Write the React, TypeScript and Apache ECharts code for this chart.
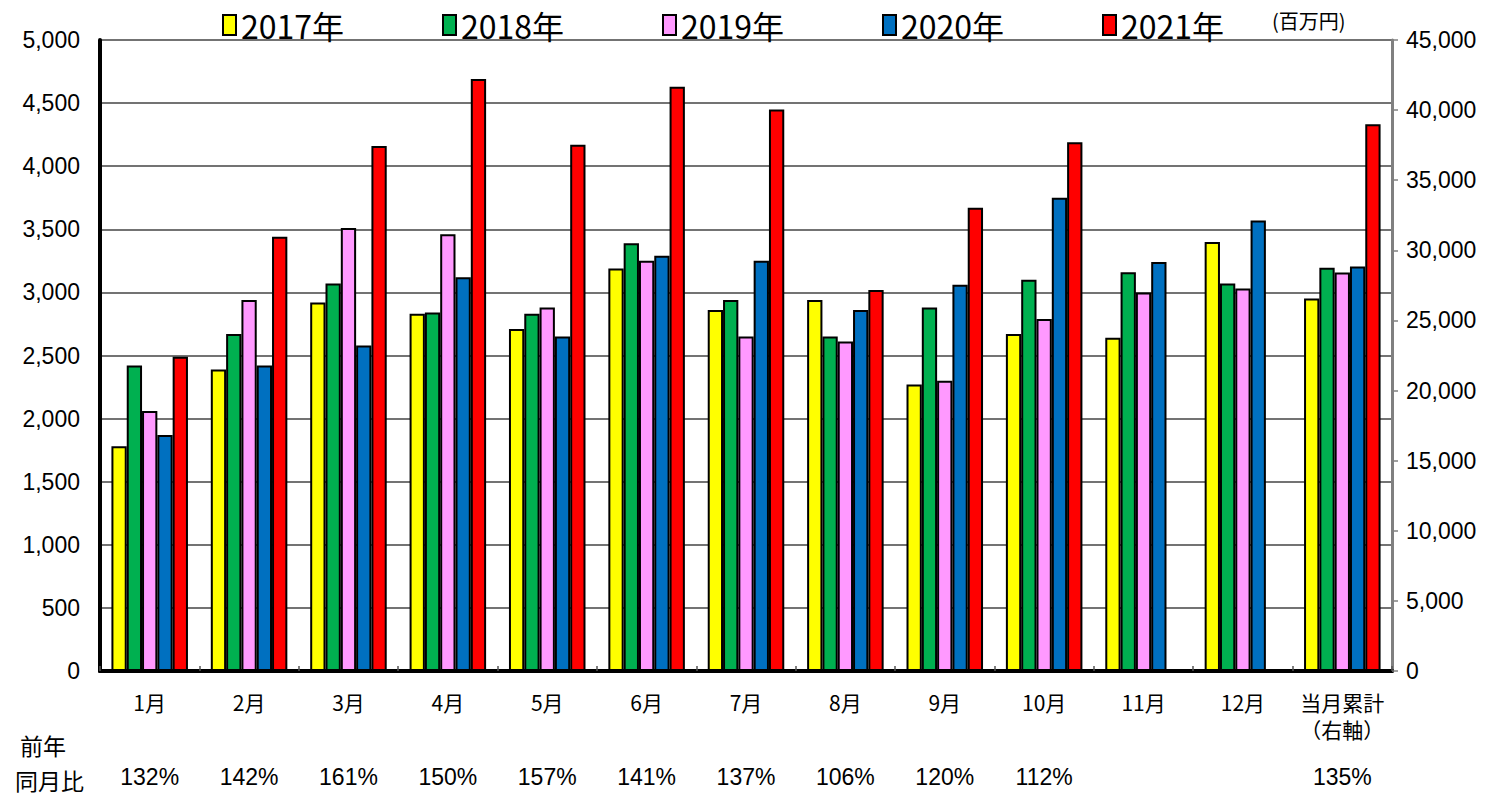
import React, { useEffect, useRef } from "react";
import * as echarts from "echarts";

const categories = ["1月", "2月", "3月", "4月", "5月", "6月", "7月", "8月", "9月", "10月", "11月", "12月", "当月累計\n（右軸）"];
const years = ["2017年", "2018年", "2019年", "2020年", "2021年"];
const colors = ["#FFFF00", "#00B050", "#FF99FF", "#0070C0", "#FF0000"];

const y2017 = [1780, 2390, 2920, 2830, 2710, 3190, 2860, 2940, 2270, 2670, 2640, 3400];
const y2018 = [2420, 2670, 3070, 2840, 2830, 3390, 2940, 2650, 2880, 3100, 3160, 3070];
const y2019 = [2060, 2940, 3510, 3460, 2880, 3250, 2650, 2610, 2300, 2790, 3000, 3030];
const y2020 = [1870, 2420, 2580, 3120, 2650, 3290, 3250, 2860, 3060, 3750, 3240, 3570];
const y2021 = [2490, 3440, 4160, 4690, 4170, 4630, 4450, 3020, 3670, 4190];
const monthly = [y2017, y2018, y2019, y2020, y2021];

// 当月累計 (right axis)
const cumulative = [26560, 28760, 28420, 28840, 39000];

const ratios = ["132%", "142%", "161%", "150%", "157%", "141%", "137%", "106%", "120%", "112%", "", "", "135%"];

const JP = "'Noto Sans CJK JP', sans-serif";
const NUM = "'Liberation Sans', Arial, sans-serif";

export default function App() {
  const ref = useRef<HTMLDivElement>(null);
  useEffect(() => {
    if (!ref.current) return;
    const chart = echarts.init(ref.current, null, { renderer: "svg" });
    const n = categories.length;
    const series: any[] = [];
    years.forEach((name, i) => {
      const d: any[] = [];
      for (let k = 0; k < n; k++) d.push(k < monthly[i].length ? monthly[i][k] : "-");
      series.push({
        name,
        type: "bar",
        xAxisIndex: 0,
        yAxisIndex: 0,
        data: d,
        barGap: "0%",
        barCategoryGap: "23%",
        itemStyle: { color: colors[i], borderColor: "#000", borderWidth: 2 },
      });
    });
    years.forEach((name, i) => {
      const d: any[] = [];
      for (let k = 0; k < n; k++) d.push(k === n - 1 ? cumulative[i] : "-");
      series.push({
        name,
        type: "bar",
        xAxisIndex: 1,
        yAxisIndex: 1,
        data: d,
        barGap: "0%",
        barCategoryGap: "23%",
        itemStyle: { color: colors[i], borderColor: "#000", borderWidth: 2 },
      });
    });
    const legends = years.map((name, i) => ({
      data: [name],
      top: 4,
      left: 217 + 220 * i,
      icon: "rect",
      itemWidth: 13,
      itemHeight: 20,
      itemGap: 5,
      itemStyle: { borderColor: "#000", borderWidth: 2 },
      textStyle: { fontSize: 32, color: "#000", fontFamily: JP },
    }));
    chart.setOption({
      animation: false,
      backgroundColor: "#fff",
      grid: { left: 100, right: 112, top: 40, bottom: 127, containLabel: false },
      legend: legends,
      xAxis: [
        {
          type: "category",
          data: categories,
          position: "bottom",
          axisLine: { lineStyle: { color: "#000", width: 4 } },
          axisTick: { show: true, inside: true, length: 5, lineStyle: { color: "#555", width: 1.5 } },
          axisLabel: { fontSize: 21, color: "#000", fontFamily: JP, margin: 17, lineHeight: 27, interval: 0 },
        },
        {
          type: "category",
          data: categories,
          position: "top",
          axisLine: { lineStyle: { color: "#000", width: 4 } },
          axisTick: { show: false },
          axisLabel: { show: false },
        },
        {
          type: "category",
          data: categories,
          position: "bottom",
          offset: 86,
          axisLine: { show: false },
          axisTick: { show: false },
          axisLabel: {
            fontSize: 23,
            color: "#000",
            fontFamily: NUM,
            interval: 0,
            formatter: (_v: string, i: number) => ratios[i],
          },
        },
      ],
      yAxis: [
        {
          type: "value",
          min: 0,
          max: 5000,
          interval: 500,
          position: "left",
          axisLine: { show: true, lineStyle: { color: "#000", width: 4 } },
          axisTick: { show: false },
          splitLine: { show: true, lineStyle: { color: "#444", width: 1.5 } },
          axisLabel: { fontSize: 23, color: "#000", fontFamily: NUM, margin: 20, formatter: (v: number) => v.toLocaleString("en-US") },
        },
        {
          type: "value",
          min: 0,
          max: 45000,
          interval: 5000,
          position: "right",
          axisLine: { show: true, lineStyle: { color: "#808080", width: 3 } },
          axisTick: { show: true, length: 6, lineStyle: { color: "#808080", width: 1.5 } },
          splitLine: { show: false },
          axisLabel: { fontSize: 23, color: "#000", fontFamily: NUM, margin: 14, formatter: (v: number) => v.toLocaleString("en-US") },
        },
      ],
      graphic: [
        { type: "text", left: 1272, top: 10, style: { text: "(百万円)", fontSize: 20, fill: "#000", fontFamily: JP } },
        { type: "text", left: 20, top: 733, style: { text: "前年", fontSize: 23, fill: "#000", fontFamily: JP } },
        { type: "text", left: 15, top: 768, style: { text: "同月比", fontSize: 23, fill: "#000", fontFamily: JP } },
      ],
      series,
    });
    return () => chart.dispose();
  }, []);
  return <div ref={ref} style={{ width: 1504, height: 798, position: "absolute", left: 0, top: 0 }} />;
}
